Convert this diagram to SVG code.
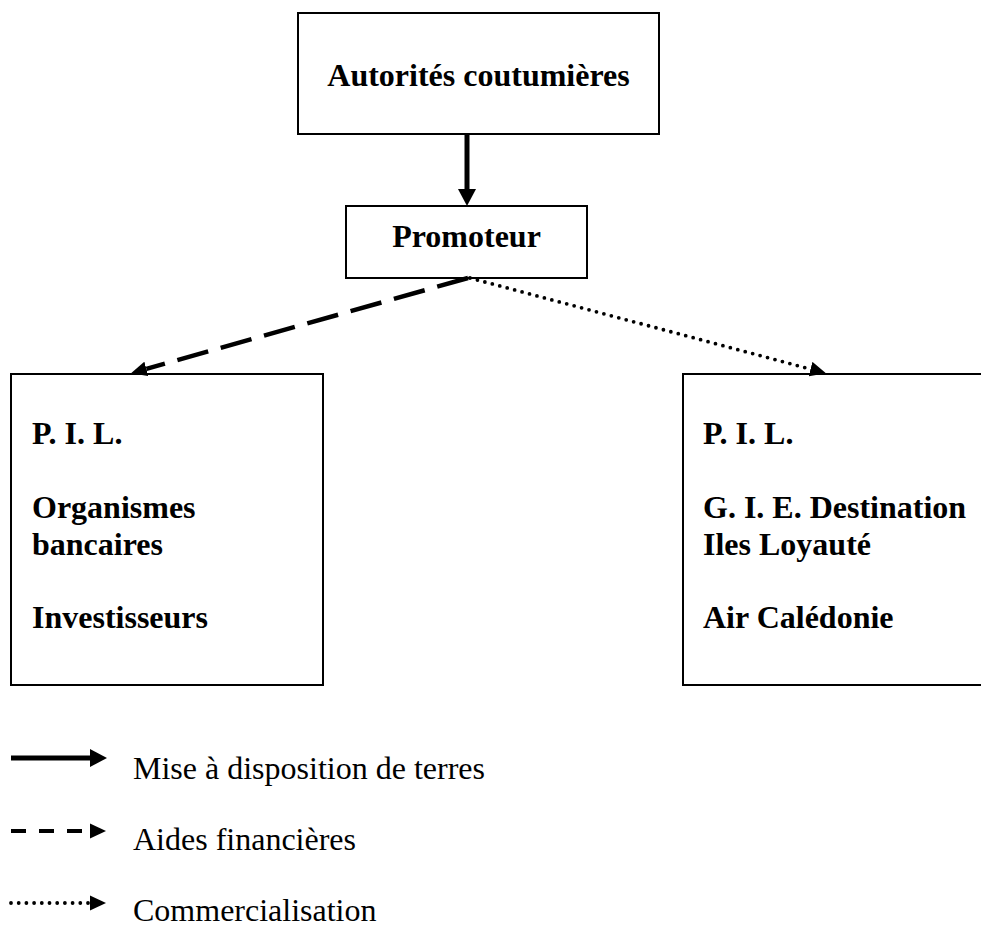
<svg xmlns="http://www.w3.org/2000/svg" width="981" height="929" viewBox="0 0 981 929">
<style>
.box{fill:#fff;stroke:#000;stroke-width:2}
.b{font-family:"Liberation Serif","Times New Roman",serif;font-weight:bold;font-size:32px;fill:#000}
.n{font-family:"Liberation Serif","Times New Roman",serif;font-size:32px;fill:#000}
.solid{stroke:#000;stroke-width:5;fill:none}
.dash{stroke:#000;stroke-width:4.5;fill:none;stroke-dasharray:32 13}
.dot{stroke:#000;stroke-width:3.8;fill:none;stroke-linecap:round;stroke-dasharray:0 7.7}
</style>
<defs>
<marker id="ahBig" viewBox="0 0 17 18" refX="0" refY="9" markerWidth="17" markerHeight="18" markerUnits="userSpaceOnUse" orient="auto"><path d="M0,0 L17,9 L0,18 Z" fill="#000"/></marker>
<marker id="ah" viewBox="0 0 16 15" refX="0" refY="7.5" markerWidth="16" markerHeight="15" markerUnits="userSpaceOnUse" orient="auto"><path d="M0,0 L16,7.5 L0,15 Z" fill="#000"/></marker>
</defs>
<rect width="981" height="929" fill="#fff"/>
<g id="autorites">
<rect class="box" x="298" y="13" width="361" height="121"/>
<text class="b" x="478.5" y="86" text-anchor="middle">Autorités coutumières</text>
</g>
<g id="promoteur">
<rect class="box" x="346" y="206" width="241" height="72"/>
<text class="b" x="466.5" y="247" text-anchor="middle">Promoteur</text>
</g>
<g id="financeurs">
<rect class="box" x="11" y="374" width="312" height="311"/>
<text class="b" x="32" y="444">P. I. L.</text>
<text class="b" x="32" y="518">Organismes</text>
<text class="b" x="32" y="555">bancaires</text>
<text class="b" x="32" y="628">Investisseurs</text>
</g>
<g id="commercialisateurs">
<rect class="box" x="683" y="374" width="320" height="311"/>
<text class="b" x="703" y="444">P. I. L.</text>
<text class="b" x="703" y="518">G. I. E. Destination</text>
<text class="b" x="703" y="555">Iles Loyauté</text>
<text class="b" x="703" y="628">Air Calédonie</text>
</g>
<g id="connectors">
<line class="solid" x1="467" y1="134" x2="467" y2="189" marker-end="url(#ahBig)"/>
<line class="dash" x1="468" y1="278" x2="146.4" y2="368.9" marker-end="url(#ah)"/>
<line class="dot" x1="470" y1="278" x2="810.5" y2="369.1" marker-end="url(#ah)"/>
</g>
<g id="legend">
<line class="solid" x1="11" y1="758" x2="90" y2="758" marker-end="url(#ahBig)"/>
<text class="n" x="133" y="779">Mise à disposition de terres</text>
<line class="dash" x1="11" y1="831" x2="90" y2="831" style="stroke-dasharray:15 13;stroke-width:4"/>
<path d="M90,823.5 L106,831 L90,838.5 Z" fill="#000"/>
<text class="n" x="133" y="850">Aides financières</text>
<line class="dot" x1="11" y1="903" x2="88" y2="903"/>
<path d="M90,895.5 L106,903 L90,910.5 Z" fill="#000"/>
<text class="n" x="133" y="921">Commercialisation</text>
</g>
</svg>
